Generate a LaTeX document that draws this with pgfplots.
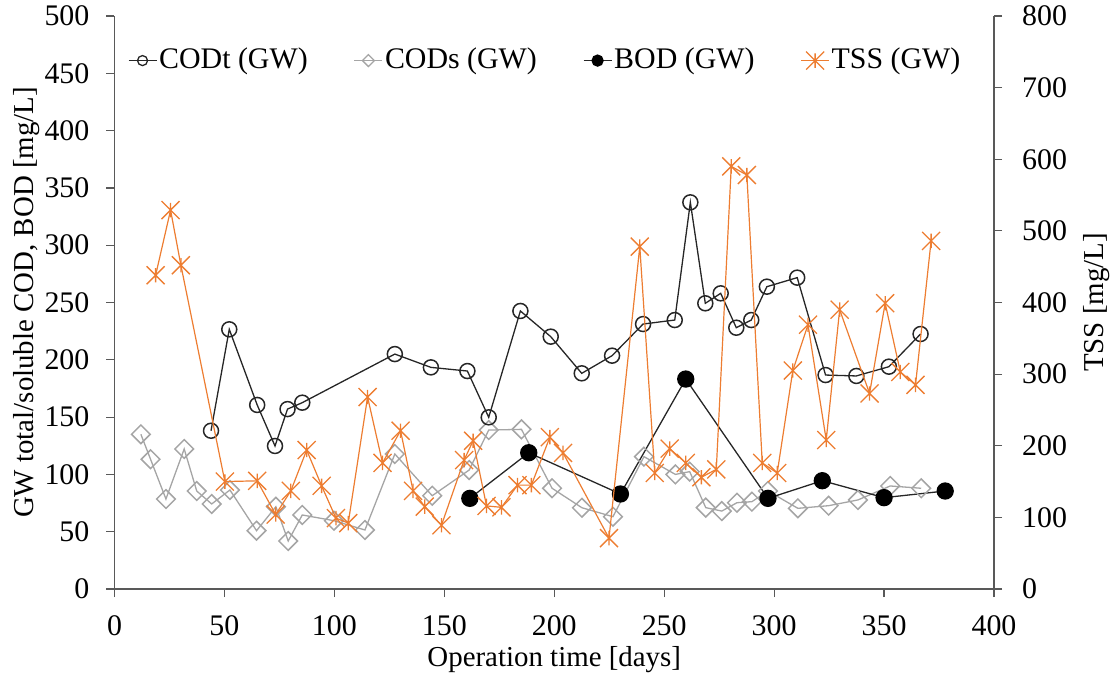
\documentclass[border=0pt]{standalone}
\usepackage{pgfplots}
\pgfplotsset{compat=1.18}
\usepackage{fontspec}
\setmainfont{Liberation Serif}
\usetikzlibrary{calc}
\definecolor{tssorange}{RGB}{237,125,49}
\definecolor{codsgray}{RGB}{165,165,165}
\definecolor{axisgray}{RGB}{89,89,89}
\pgfdeclareplotmark{xstar}{%
  \pgfpathmoveto{\pgfqpoint{-\pgfplotmarksize}{-\pgfplotmarksize}}%
  \pgfpathlineto{\pgfqpoint{\pgfplotmarksize}{\pgfplotmarksize}}%
  \pgfpathmoveto{\pgfqpoint{-\pgfplotmarksize}{\pgfplotmarksize}}%
  \pgfpathlineto{\pgfqpoint{\pgfplotmarksize}{-\pgfplotmarksize}}%
  \pgfpathmoveto{\pgfqpoint{0pt}{0.8\pgfplotmarksize}}%
  \pgfpathlineto{\pgfqpoint{0pt}{-0.8\pgfplotmarksize}}%
  \pgfusepathqstroke}

\pgfplotstableread{
x y
43.9 138.1
52.2 226.6
64.9 160.6
73.0 124.8
78.7 157.0
85.4 162.6
127.5 205.0
143.9 193.4
160.5 190.2
170.2 149.8
184.6 242.6
198.4 220.2
212.5 188.2
226.3 203.6
240.4 231.2
254.8 234.7
261.9 337.4
268.7 249.3
275.7 258.0
282.8 228.0
289.6 234.7
296.7 263.8
310.5 271.7
323.4 186.7
337.4 185.9
352.2 194.0
366.6 222.5
}\codt

\pgfplotstableread{
x y
12.0 135.0
16.4 113.2
23.4 78.5
31.7 122.2
37.4 85.5
44.2 74.2
52.5 86.4
64.6 50.9
73.4 71.8
79.0 41.9
85.4 64.6
99.8 59.6
113.9 51.5
127.5 117.8
144.5 81.4
161.3 103.8
170.2 138.7
185.1 139.3
199.0 87.9
212.6 70.9
226.7 63.1
240.8 115.5
255.1 100.0
261.6 102.4
268.9 71.0
276.2 68.0
283.1 75.3
289.9 76.2
297.2 85.5
310.8 70.4
324.8 72.7
338.1 77.7
352.8 89.9
366.9 87.9
}\cods

\pgfplotstableread{
x y
161.6 79.1
188.4 118.9
230.1 82.9
259.8 183.2
297.2 79.1
321.9 94.5
350.0 79.7
377.8 85.5
}\bod

\pgfplotstableread{
x y
18.7 438
25.5 529
30.2 452
50.2 150
64.9 151
73.3 104
80.2 137
87.4 194
94.2 144
100.7 99
106.3 92
115.1 268
121.9 176
130.1 221
135.8 137
141.1 115
148.7 89
159.0 180
163.1 207
169.2 116
176.0 114
183.3 145
189.6 145
198.0 212
204.0 190
224.9 71
238.9 478
245.7 162
252.5 196
259.8 176
266.9 156
273.7 167
280.5 590
287.6 578
294.6 176
301.4 162
308.5 305
315.4 369
323.7 208
329.8 390
343.4 273
350.5 399
357.4 303
364.3 285
371.4 486
}\tss

\begin{document}
\fontsize{30}{34}\selectfont
\begin{tikzpicture}
\pgfplotsset{
  every axis/.append style={
    scale only axis, width=879.5bp, height=573bp,
    xmin=0, xmax=400,
    tick align=outside, major tick length=8bp,
    tick style={axisgray, line width=1.2bp},
    axis line style={axisgray, line width=1.2bp},
    tick label style={font=\fontsize{30}{34}\selectfont},
    label style={font=\fontsize{29}{33}\selectfont},
    /pgf/number format/assume math mode=true,
  },
}
\begin{axis}[
  axis x line*=bottom, axis y line*=left,
  ymin=0, ymax=500,
  xtick={0,50,...,400}, ytick={0,50,...,500},
  xlabel={Operation time [days]},
  ylabel={GW total/soluble COD, BOD [mg/L]},
  xticklabel style={yshift=-8bp},
  yticklabel style={xshift=-7bp},
  xlabel style={yshift=9bp},
  ylabel style={yshift=-15bp},
  clip=false,
]
\addplot[codsgray, line width=1.3bp, mark=square, mark size=6.6bp, mark options={fill=white, solid, rotate=45, line width=1.5bp}] table {\cods};
\addplot[black!85, line width=1.3bp, mark=o, mark size=7.5bp, mark options={fill=white, line width=1.5bp}] table {\codt};
\addplot[black!85, line width=1.3bp, mark=*, mark size=8bp, mark options={fill=black, draw=black}] table {\bod};
\end{axis}
\begin{axis}[
  axis x line=none, axis y line*=right,
  ymin=0, ymax=800,
  ytick={0,100,...,800},
  yticklabel style={xshift=10bp},
  ylabel={TSS [mg/L]},
  ylabel style={yshift=4bp},
  legend columns=4,
  legend style={draw=none, fill=none, at={(0.015,0.948)}, anchor=north west,
    font=\fontsize{30}{34}\selectfont,
    /tikz/every even column/.append style={column sep=44bp},
    inner sep=0pt},
  legend image code/.code={%
    \draw[mark repeat=2, mark phase=2] plot coordinates {(0bp,0bp) (14bp,0bp) (28bp,0bp)};},
]
\addlegendimage{black!85, line width=1.3bp, mark=o, mark size=5bp, mark options={fill=white, line width=1.3bp}}
\addlegendentry{CODt (GW)}
\addlegendimage{codsgray, line width=1.3bp, mark=square, mark size=4.2bp, mark options={fill=white, rotate=45, line width=1.3bp}}
\addlegendentry{CODs (GW)}
\addlegendimage{black!85, line width=1.3bp, mark=*, mark size=5.5bp, mark options={fill=black, draw=black}}
\addlegendentry{BOD (GW)}
\addplot[tssorange, line width=1.2bp, mark=xstar, mark size=9bp, mark options={line width=1.3bp}] table {\tss};
\addlegendentry{TSS (GW)}
\end{axis}
\pgfresetboundingbox
\path ($(current axis.south west)+(-114.5bp,-88bp)$) rectangle ($(current axis.north east)+(124bp,16bp)$);
\end{tikzpicture}
\end{document}
